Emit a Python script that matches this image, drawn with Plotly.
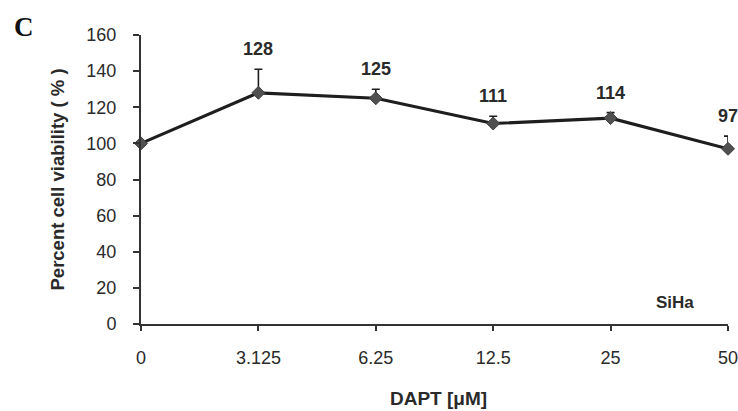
import plotly.graph_objects as go

# DAPT concentrations (category labels) and SiHa viability
doses = ["0", "3.125", "6.25", "12.5", "25", "50"]
viability = [100, 128, 125, 111, 114, 97]
err_up = [0, 13, 5, 4, 3, 7]

y_ticks = [0, 20, 40, 60, 80, 100, 120, 140, 160]

ink = "#2a2a2a"
font_sans = "Liberation Sans, Arial, sans-serif"

fig = go.Figure()

fig.add_trace(go.Scatter(
    x=doses,
    y=viability,
    mode="lines+markers",
    line=dict(color="#1e1e1e", width=3.2),
    marker=dict(symbol="diamond", size=10, color="#505050",
                line=dict(color="#404040", width=1)),
    error_y=dict(type="data", array=err_up, arrayminus=[0] * len(err_up),
                 symmetric=False, color="#1e1e1e", thickness=1.6, width=4),
    cliponaxis=False,
    showlegend=False,
))

# value labels above each treated point (category index positions)
for i, (v, e) in enumerate(zip(viability, err_up)):
    if i == 0:
        continue
    fig.add_annotation(
        x=i, y=v + e, text=f"<b>{v}</b>", showarrow=False,
        yanchor="bottom", yshift=8,
        font=dict(family=font_sans, size=18, color=ink),
    )

fig.add_annotation(
    xref="paper", yref="paper", x=0.9095, y=0.075, text="<b>SiHa</b>",
    showarrow=False, xanchor="center", yanchor="middle",
    font=dict(family=font_sans, size=17, color=ink),
)

fig.add_annotation(
    xref="paper", yref="paper", x=-0.22, y=1.028, text="<b>C</b>",
    showarrow=False, xanchor="left", yanchor="middle",
    font=dict(family="Liberation Serif, Times New Roman, serif", size=27, color="#111111"),
)

# axis titles
fig.add_annotation(
    xref="paper", yref="paper", x=-0.1431, y=0.5,
    text="<b>Percent cell viability ( % )</b>", textangle=-90,
    showarrow=False, xanchor="center", yanchor="middle",
    font=dict(family=font_sans, size=18.5, color=ink),
)
fig.add_annotation(
    xref="paper", yref="paper", x=0.506, y=-0.2595,
    text="<b>DAPT [μM]</b>",
    showarrow=False, xanchor="center", yanchor="middle",
    font=dict(family=font_sans, size=19, color=ink),
)

fig.update_layout(
    width=738, height=411,
    margin=dict(l=141, r=10, t=35, b=87, autoexpand=False),
    paper_bgcolor="white", plot_bgcolor="white",
    font=dict(family=font_sans, color=ink),
    xaxis=dict(
        type="category", range=[0, 5], automargin=False,
        showgrid=False, zeroline=False,
        showline=True, linecolor="#333333", linewidth=2,
        ticks="outside", ticklen=5, tickwidth=2, tickcolor="#333333",
        tickfont=dict(size=18, color=ink), ticklabelstandoff=11,
    ),
    yaxis=dict(
        range=[0, 160], tickvals=y_ticks, automargin=False,
        showgrid=False, zeroline=False,
        showline=True, linecolor="#333333", linewidth=2,
        ticks="outside", ticklen=6, tickwidth=2, tickcolor="#333333",
        tickfont=dict(size=18, color=ink), ticklabelstandoff=13,
    ),
)

fig.write_html("out.html")
